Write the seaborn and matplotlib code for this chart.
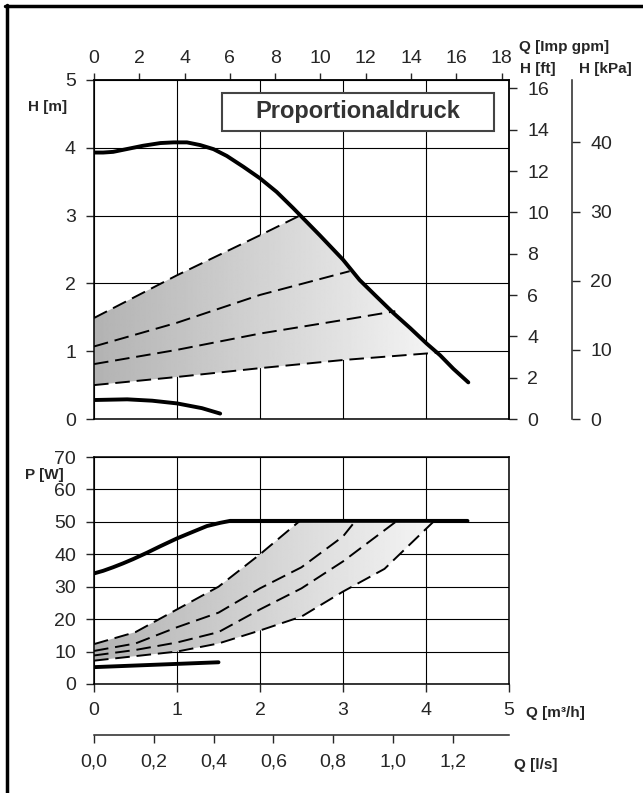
import numpy as np
import pandas as pd
import seaborn as sns
import matplotlib.pyplot as plt
from matplotlib.patches import Polygon, Rectangle
from matplotlib.lines import Line2D
from matplotlib.ticker import FuncFormatter

sns.set_style('white')
plt.rcParams['font.family'] = ['Liberation Sans', 'DejaVu Sans']
plt.rcParams['axes.linewidth'] = 1.1

# --- data (Q in m3/h) ---
# head, max / min curve
q_hmax = [0, 0.11, 0.23, 0.39, 0.59, 0.80, 0.96, 1.12, 1.28, 1.44, 1.60, 1.80,
          2.0, 2.2, 2.4, 2.48, 2.72, 3.0, 3.2, 3.4, 3.61, 3.81, 4.01, 4.17, 4.33, 4.51]
h_max = [3.93, 3.93, 3.94, 3.98, 4.03, 4.07, 4.08, 4.08, 4.04, 3.98, 3.88, 3.72,
         3.55, 3.35, 3.11, 3.01, 2.71, 2.35, 2.05, 1.81, 1.56, 1.34, 1.11, 0.94, 0.74, 0.54]
q_hmin = [0, 0.4, 0.7, 1.0, 1.3, 1.52]
h_min = [0.28, 0.29, 0.27, 0.23, 0.16, 0.08]

# proportional pressure lines (head)
q_pp1 = [0, 1, 2, 2.48]
h_pp1 = [1.49, 2.12, 2.71, 3.0]
q_pp2 = [0, 1, 2, 3.08]
h_pp2 = [1.07, 1.42, 1.83, 2.18]
q_pp3 = [0, 1, 2, 3, 3.63]
h_pp3 = [0.81, 1.02, 1.26, 1.46, 1.59]
q_pp4 = [0, 1, 2, 3, 4.15]
h_pp4 = [0.50, 0.62, 0.75, 0.87, 0.98]

# power, max / min curve
q_pmax = [0, 0.11, 0.23, 0.35, 0.47, 0.64, 0.80, 1.0, 1.16, 1.36, 1.52, 1.64, 4.5]
p_max = [34.1, 34.9, 36.0, 37.2, 38.5, 40.5, 42.5, 44.9, 46.6, 48.7, 49.7, 50.3, 50.3]
q_pmin = [0, 1.5]
p_min = [5.2, 6.7]

# proportional pressure lines (power)
q_pw1 = [0, 0.5, 1, 1.5, 2, 2.48]
p_pw1 = [12.3, 16, 23, 30, 40, 50.3]
q_pw2 = [0, 0.5, 1, 1.5, 2, 2.5, 3, 3.15]
p_pw2 = [10.2, 12.5, 17.5, 22, 29.5, 36, 45.5, 50.3]
q_pw3 = [0, 0.5, 1, 1.5, 2, 2.5, 3, 3.65]
p_pw3 = [8.8, 10.5, 12.8, 16, 23, 29.5, 37.8, 50.3]
q_pw4 = [0, 0.5, 1, 1.5, 2, 2.5, 3, 3.5, 4.1]
p_pw4 = [7.2, 8.6, 10, 12.5, 16.5, 20.8, 28.5, 35.5, 50.3]

q_ticks = [0, 1, 2, 3, 4, 5]
gpm_ticks = list(range(0, 19, 2))
ft_ticks = list(range(0, 17, 2))
kpa_ticks = [0, 10, 20, 30, 40]
ls_ticks = [0, 0.2, 0.4, 0.6, 0.8, 1.0, 1.2]

GPM = 3.6662   # Imp gpm per m3/h
FT = 3.28084   # ft per m
KPA = 9.80665  # kPa per m

W, H = 643, 793
fig = plt.figure(figsize=(W / 100, H / 100), dpi=100)


def fx(px):
    return px / W


def fy(py):
    return 1 - py / H


ax_h = fig.add_axes([fx(94), fy(419), fx(509) - fx(94), fy(80) - fy(419)])
ax_p = fig.add_axes([fx(94), fy(684), fx(509) - fx(94), fy(457) - fy(684)])

solid = dict(color='black', lw=2.8, estimator=None, sort=False, zorder=4)
dashed = dict(color='black', lw=1.4, estimator=None, sort=False, zorder=4,
              dashes=(7.5, 3.5))
TICK = 14


def gradient_fill(ax, xs, ys, ylim):
    poly = Polygon(np.column_stack([xs, ys]), closed=True, facecolor='none',
                   edgecolor='none', transform=ax.transData)
    ax.add_patch(poly)
    grad = np.linspace(0.70, 0.96, 256).reshape(1, -1)
    im = ax.imshow(grad, cmap='gray', vmin=0, vmax=1, aspect='auto',
                   extent=[min(xs), max(xs), ylim[0], ylim[1]], zorder=1,
                   interpolation='bilinear')
    im.set_clip_path(poly)


# --- head plot ---
q_edge = np.linspace(q_pp1[-1], q_pp4[-1], 40)
h_edge = np.interp(q_edge, q_hmax, h_max)
poly_q = list(q_pp1) + list(q_edge) + list(q_pp4[::-1])
poly_h = list(h_pp1) + list(h_edge) + list(h_pp4[::-1])
gradient_fill(ax_h, poly_q, poly_h, (0, 5))

sns.lineplot(x=q_hmax, y=h_max, ax=ax_h, **solid)
sns.lineplot(x=q_hmin, y=h_min, ax=ax_h, **solid)
for q, h in [(q_pp1, h_pp1), (q_pp2, h_pp2), (q_pp3, h_pp3), (q_pp4, h_pp4)]:
    sns.lineplot(x=q, y=h, ax=ax_h, **dashed)

ax_h.set_xlim(0, 5)
ax_h.set_ylim(0, 5)
ax_h.set_xticks(q_ticks)
ax_h.set_yticks(range(0, 6))
ax_h.grid(True, color='black', lw=0.8)
ax_h.set_axisbelow(True)
ax_h.tick_params(axis='x', length=0, labelbottom=False)
ax_h.tick_params(axis='y', direction='out', length=6, width=1, pad=7,
                 labelsize=TICK, left=True)
ax_h.set_xlabel('')
ax_h.set_ylabel('')
for s in ax_h.spines.values():
    s.set_color('black')

sec_gpm = ax_h.secondary_xaxis('top', functions=(lambda q: q * GPM, lambda g: g / GPM))
sec_gpm.set_xticks(gpm_ticks)
sec_gpm.tick_params(direction='out', length=5, width=1, pad=4, labelsize=TICK)

sec_ft = ax_h.secondary_yaxis('right', functions=(lambda h: h * FT, lambda f: f / FT))
sec_ft.set_yticks(ft_ticks)
sec_ft.tick_params(direction='out', length=6, width=1, pad=7, labelsize=TICK)

sec_kpa = ax_h.secondary_yaxis((572 - 94) / 415, functions=(lambda h: h * KPA, lambda k: k / KPA))
sec_kpa.set_yticks(kpa_ticks)
sec_kpa.tick_params(direction='out', length=6, width=1, pad=7, labelsize=TICK)

# title box
ax_h.add_patch(Rectangle((0.308, 0.85), 0.656, 0.112, transform=ax_h.transAxes,
                         facecolor='white', edgecolor='#444444', lw=1.5, zorder=6))
ax_h.text(0.636, 0.906, 'Proportionaldruck', transform=ax_h.transAxes,
          ha='center', va='center', fontsize=17, fontweight='bold',
          color='#333333', zorder=7)

# --- power plot ---
poly_q = list(q_pw1) + list(q_pw4[::-1])
poly_p = list(p_pw1) + list(p_pw4[::-1])
gradient_fill(ax_p, poly_q, poly_p, (0, 70))

sns.lineplot(x=q_pmax, y=p_max, ax=ax_p, **solid)
sns.lineplot(x=q_pmin, y=p_min, ax=ax_p, **solid)
for q, p in [(q_pw1, p_pw1), (q_pw2, p_pw2), (q_pw3, p_pw3), (q_pw4, p_pw4)]:
    sns.lineplot(x=q, y=p, ax=ax_p, **dashed)

ax_p.set_xlim(0, 5)
ax_p.set_ylim(0, 70)
ax_p.set_xticks(q_ticks)
ax_p.set_yticks(range(0, 71, 10))
ax_p.grid(True, color='black', lw=0.8)
ax_p.set_axisbelow(True)
ax_p.tick_params(axis='both', direction='out', length=6, width=1, pad=7,
                 labelsize=TICK, left=True, bottom=True)
ax_p.set_xlabel('')
ax_p.set_ylabel('')
for s in ax_p.spines.values():
    s.set_color('black')

sec_ls = ax_p.secondary_xaxis(-(735 - 684) / 227, functions=(lambda q: q / 3.6, lambda l: l * 3.6))
sec_ls.set_xticks(ls_ticks)
sec_ls.xaxis.set_major_formatter(FuncFormatter(lambda v, pos: f'{v:.1f}'.replace('.', ',')))
sec_ls.tick_params(direction='out', length=6, width=1, pad=7, labelsize=TICK)

# --- unit labels ---
lab = dict(fontsize=11, fontweight='bold', va='center', ha='left')
fig.text(fx(519), fy(47), 'Q [Imp gpm]', **lab)
fig.text(fx(520), fy(69), 'H [ft]', **lab)
fig.text(fx(579), fy(69), 'H [kPa]', **lab)
fig.text(fx(28), fy(107), 'H [m]', **lab)
fig.text(fx(25), fy(475), 'P [W]', **lab)
fig.text(fx(526), fy(713), 'Q [m³/h]', **lab)
fig.text(fx(514), fy(765), 'Q [l/s]', **lab)

# outer frame (top and left edges only)
fig.add_artist(Line2D([fx(5), 1], [fy(6), fy(6)], color='black', lw=2.5))
fig.add_artist(Line2D([fx(6.5), fx(6.5)], [fy(5), 0], color='black', lw=2.5))

fig.savefig('out.png', dpi=100)
